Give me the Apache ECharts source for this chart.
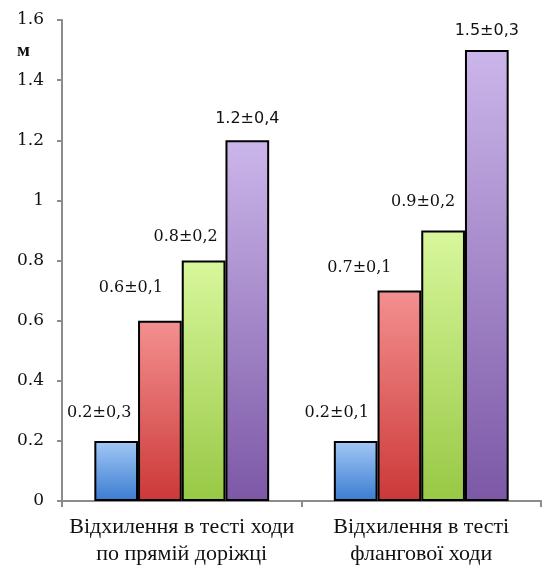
<!DOCTYPE html>
<html><head><meta charset="utf-8">
<script src="https://cdn.jsdelivr.net/npm/echarts@6/dist/echarts.min.js"></script>
<style>html,body{margin:0;padding:0;background:#fff}#c{width:542px;height:568px}</style>
</head><body><div id="c"></div>
<script>
const categories = ['Відхилення в тесті ходи\nпо прямій доріжці', 'Відхилення в тесті\nфлангової ходи'];
const s1 = [0.2, 0.2];
const s2 = [0.6, 0.7];
const s3 = [0.8, 0.9];
const s4 = [1.2, 1.5];
const l1 = ['0.2±0,3', '0.2±0,1'];
const l2 = ['0.6±0,1', '0.7±0,1'];
const l3 = ['0.8±0,2', '0.9±0,2'];
const l4 = ['1.2±0,4', '1.5±0,3'];
const unit = 'м';

const grads = [
  ['#a3c8f7', '#3a7ccf'],
  ['#f49090', '#cc3838'],
  ['#d8f79c', '#98c845'],
  ['#cbb6ea', '#7c58a6']
];
// label offsets per series, per category
const offsets = [
  [[-17, -15], [-19, -15]],
  [[-29, -20], [-40, -10]],
  [[-18, -11], [-20, -16]],
  [[0, -8], [0, -6]]
];
const fams = ['DejaVu Serif', 'DejaVu Serif', 'DejaVu Serif', 'DejaVu Sans'];
function mk(vals, labs, i) {
  return {
    type: 'bar', barGap: '0%', barCategoryGap: '27%',
    data: vals.map((v, k) => ({value: v, label: {formatter: labs[k], offset: offsets[i][k]}})),
    itemStyle: {
      color: new echarts.graphic.LinearGradient(0, 0, 0, 1, [{offset: 0, color: grads[i][0]}, {offset: 1, color: grads[i][1]}]),
      borderColor: '#000', borderWidth: 2
    },
    label: {show: true, position: 'top', color: '#111', fontSize: 16, fontFamily: fams[i]}
  };
}
const chart = echarts.init(document.getElementById('c'));
chart.setOption({
  animation: false,
  grid: {left: 62, top: 20, right: 1, bottom: 65},
  xAxis: {
    type: 'category', data: categories,
    axisLine: {lineStyle: {color: '#8c8c8c', width: 2}},
    axisTick: {show: true, length: 6, lineStyle: {color: '#8c8c8c', width: 2}},
    axisLabel: {interval: 0, color: '#111', fontSize: 22, fontFamily: 'Liberation Serif', lineHeight: 27, margin: 13}
  },
  yAxis: {
    type: 'value', min: 0, max: 1.6, interval: 0.2,
    axisLine: {show: true, lineStyle: {color: '#8c8c8c', width: 2}},
    axisTick: {show: true, length: 5, lineStyle: {color: '#8c8c8c', width: 2}},
    splitLine: {show: false},
    axisLabel: {color: '#111', fontSize: 17, fontFamily: 'DejaVu Serif', margin: 18}
  },
  graphic: [{type: 'text', left: 17, top: 42, style: {text: unit, font: 'bold 19px "Liberation Serif"', fill: '#111'}}],
  series: [mk(s1, l1, 0), mk(s2, l2, 1), mk(s3, l3, 2), mk(s4, l4, 3)]
});
</script></body></html>
